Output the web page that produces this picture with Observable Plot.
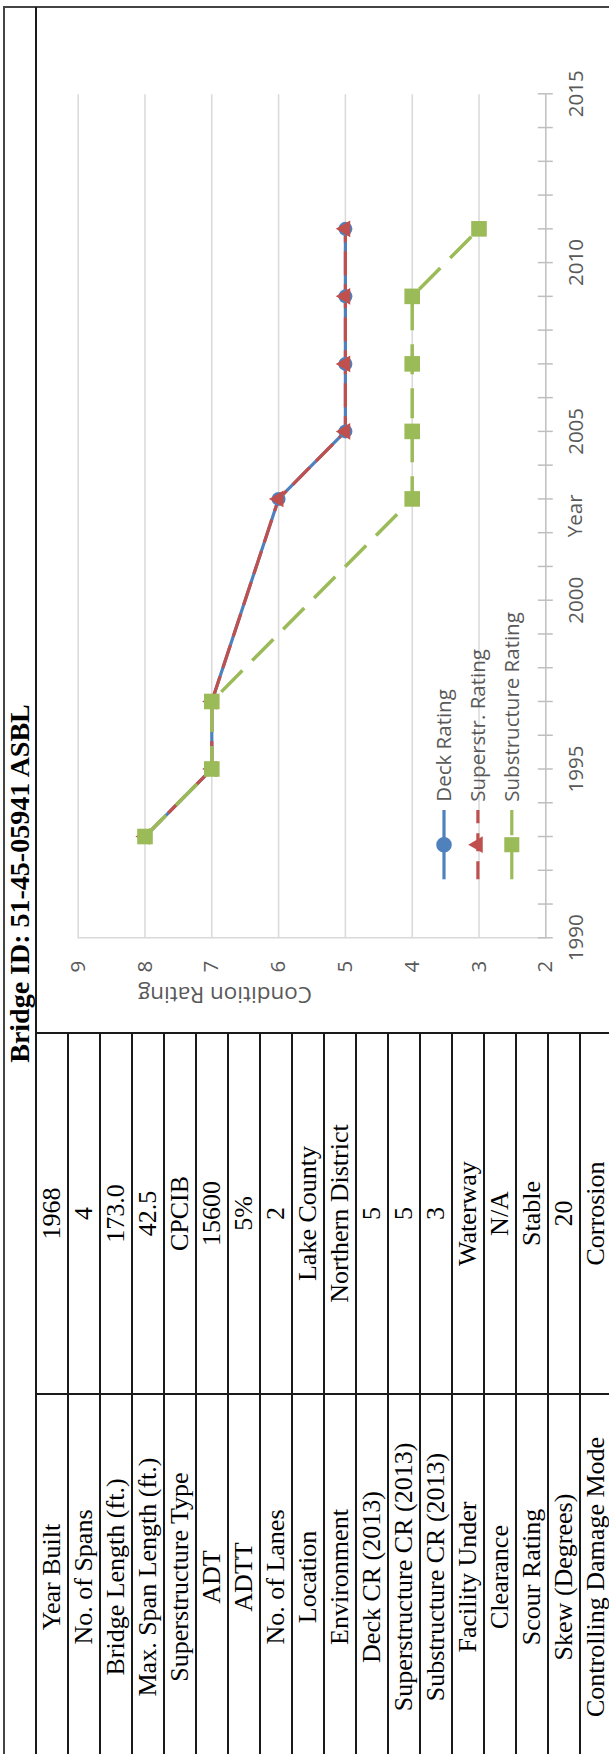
<!DOCTYPE html>
<html>
<head>
<meta charset="utf-8">
<script src="https://cdn.jsdelivr.net/npm/d3@7"></script>
<script src="https://cdn.jsdelivr.net/npm/@observablehq/plot@0.6"></script>
<style>
  html, body { margin: 0; padding: 0; background: #fff; overflow: hidden; width: 609px; height: 1754px; }
  #page { position: absolute; left: 0; top: 0; width: 1754px; height: 609px;
          transform-origin: 0 0; transform: translate(0, 1754px) rotate(-90deg); background: #fff; }
  .cell { position: absolute; display: flex; align-items: center; justify-content: center;
          font-family: "Liberation Serif", "Times New Roman", serif; font-size: 26px; color: #000;
          white-space: nowrap; box-sizing: border-box; }
  .title { font-weight: bold; font-size: 28px; }
  .ln { position: absolute; background: #1a1a1a; }
  .outer { background: #444; }
  #chart { position: absolute; }
  #legend { position: absolute; left: 0; top: 0; }
</style>
</head>
<body>
<div id="page"></div>
<script>
// ---------------- data ----------------
const title = "Bridge ID: 51-45-05941 ASBL";
const fieldLabels = [
  "Year Built", "No. of Spans", "Bridge Length (ft.)", "Max. Span Length (ft.)",
  "Superstructure Type", "ADT", "ADTT", "No. of Lanes", "Location", "Environment",
  "Deck CR (2013)", "Superstructure CR (2013)", "Substructure CR (2013)",
  "Facility Under", "Clearance", "Scour Rating", "Skew (Degrees)", "Controlling Damage Mode"
];
const fieldValues = [
  "1968", "4", "173.0", "42.5", "CPCIB", "15600", "5%", "2", "Lake County",
  "Northern District", "5", "5", "3", "Waterway", "N/A", "Stable", "20", "Corrosion"
];
const years = [1993, 1995, 1997, 2003, 2005, 2007, 2009, 2011];
const deckRating = [8, 7, 7, 6, 5, 5, 5, 5];
const superRating = [8, 7, 7, 6, 5, 5, 5, 5];
const subRating = [8, 7, 7, 4, 4, 4, 4, 3];
const seriesNames = ["Deck Rating", "Superstr. Rating", "Substructure Rating"];
const seriesColors = ["#4F81BD", "#C0504D", "#9BBB59"];
const seriesSymbols = ["circle", "triangle", "square"];
const ratingTicks = [2, 3, 4, 5, 6, 7, 8, 9];
const yearLabels = [1990, 1995, 2000, 2005, 2010, 2015];
const xLabel = "Year";
const yLabel = "Condition Rating";

// ---------------- layout (landscape page, then rotated) ----------------
const page = document.getElementById("page");
const L = -6, colA = 360, colB = 721, R = 1747;   // horizontal boundaries
const top0 = 4, titleBottom = 36, rowH = 32;      // vertical boundaries
const nRows = fieldLabels.length;
const bottom = titleBottom + rowH * nRows;
const sansFont = "'Open Sans', sans-serif";

function box(cls, x, y, w, h, text) {
  const d = document.createElement("div");
  d.className = cls;
  d.style.left = x + "px"; d.style.top = y + "px";
  d.style.width = w + "px"; d.style.height = h + "px";
  if (text != null) d.textContent = text;
  page.appendChild(d);
  return d;
}

// title
box("cell title", L, top0, R - L, titleBottom - top0, title);
// table cells
fieldLabels.forEach((lab, i) => {
  box("cell", L, titleBottom + i * rowH, colA - L, rowH, lab);
  box("cell", colA, titleBottom + i * rowH, colB - colA, rowH, fieldValues[i]);
});

// chart
const rows = years.map((year, i) => ({year, deck: deckRating[i], sup: superRating[i], sub: subRating[i]}));
const chartW = R - colB, chartH = bottom - titleBottom;
const grey = "#595959";
const chart = Plot.plot({
  width: chartW, height: chartH,
  marginLeft: 94.7, marginRight: 87.3, marginTop: 41.7, marginBottom: chartH - (545.3 - titleBottom),
  x: {domain: [1990, 2015]},
  y: {domain: [2, 9]},
  style: {fontFamily: sansFont, fontSize: "20px", color: grey, background: "transparent", overflow: "visible"},
  marks: [
    Plot.ruleY(ratingTicks.slice(1), {stroke: "#d9d9d9", strokeWidth: 1.5}),
    Plot.ruleX([yearLabels[0]], {stroke: "#d9d9d9", strokeWidth: 1.5}),
    Plot.ruleY([ratingTicks[0]], {stroke: "#bfbfbf", strokeWidth: 1.5}),
    Plot.axisX(d3.range(1990, 2016), {tickSize: 15, dy: -7.5, tickFormat: () => "", stroke: "#bfbfbf", strokeWidth: 1.5, label: null}),
    Plot.axisX(yearLabels, {tickSize: 0, tickPadding: 23, tickFormat: d => String(d), fontSize: 20.5, fill: grey, label: null}),
    Plot.axisY(ratingTicks, {tickSize: 0, tickPadding: 23, tickFormat: d => String(d), fontSize: 20.5, fill: grey, label: null}),
    Plot.text([xLabel], {frameAnchor: "bottom", dy: 36, fontSize: 20.5, fill: grey}),
    Plot.text([yLabel], {frameAnchor: "left", dx: -56, rotate: -90, fontSize: 22.5, fill: grey}),
    Plot.line(rows, {x: "year", y: "deck", stroke: seriesColors[0], strokeWidth: 3.2}),
    Plot.line(rows, {x: "year", y: "sup", stroke: seriesColors[1], strokeWidth: 3.2, strokeDasharray: "24 9", strokeLinecap: "butt"}),
    Plot.line(rows, {x: "year", y: "sub", stroke: seriesColors[2], strokeWidth: 3.5, strokeDasharray: "30 14", strokeLinecap: "butt"}),
    Plot.dot(rows, {x: "year", y: "deck", symbol: "circle", r: 7, fill: seriesColors[0]}),
    Plot.dot(rows, {x: "year", y: "sup", symbol: "triangle", r: 6.2, fill: seriesColors[1]}),
    Plot.dot(rows, {x: "year", y: "sub", symbol: "square", r: 8.8, fill: seriesColors[2]})
  ]
});

const holder = document.createElement("div");
holder.id = "chart";
holder.style.left = colB + "px"; holder.style.top = titleBottom + "px";
holder.appendChild(chart);
page.appendChild(holder);

// legend (inside the chart cell)
const lg = d3.select(page).append("svg").attr("id", "legend")
  .attr("width", 1754).attr("height", 609).style("overflow", "visible");
const legendDash = [null, "18 10", "30 14"];
const legendR = [7.8, 6.2, 8.5];
seriesNames.forEach((name, i) => {
  const y = 444 + i * 33.9;
  lg.append("line").attr("x1", 874.7).attr("x2", 944).attr("y1", y).attr("y2", y)
    .attr("stroke", seriesColors[i]).attr("stroke-width", 3.2)
    .attr("stroke-dasharray", legendDash[i]);
  const sym = {circle: d3.symbolCircle, triangle: d3.symbolTriangle, square: d3.symbolSquare}[seriesSymbols[i]];
  lg.append("path").attr("d", d3.symbol(sym, Math.PI * legendR[i] * legendR[i])())
    .attr("transform", `translate(909.3,${y})`).attr("fill", seriesColors[i]);
  lg.append("text").attr("x", 952.3).attr("y", y).attr("dy", "0.33em")
    .style("font-family", sansFont).style("font-size", "20.5px").attr("fill", grey)
    .text(name);
});

// table / frame lines
box("ln outer", L, top0 - 1, R - L + 1, 2);            // outer top
box("ln outer", R - 1, top0 - 1, 2, bottom - top0 + 2);  // outer right
box("ln", L, titleBottom - 0.75, R - L, 1.5);           // under title
for (let i = 1; i <= nRows; i++) box("ln", L, titleBottom + i * rowH - 0.75, colB - L, 1.5);
box("ln", colA - 0.75, titleBottom, 1.5, bottom - titleBottom);
box("ln", colB - 0.75, titleBottom, 1.5, bottom - titleBottom);
</script>
</body>
</html>
